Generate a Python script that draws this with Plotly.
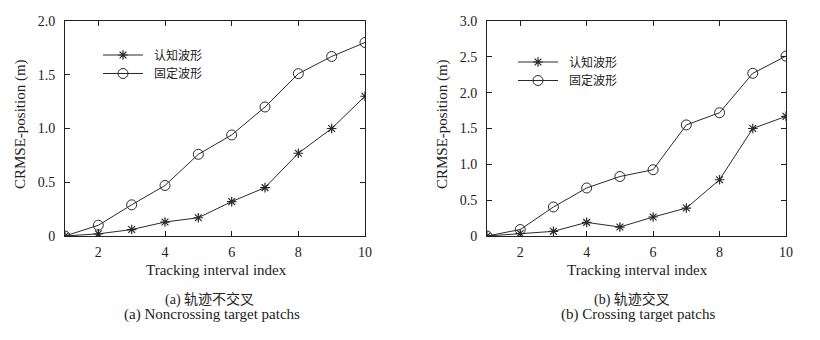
import plotly.graph_objects as go

x = [1, 2, 3, 4, 5, 6, 7, 8, 9, 10]
a_cog = [0.0, 0.02, 0.06, 0.13, 0.17, 0.32, 0.45, 0.77, 1.00, 1.30]
a_fix = [0.0, 0.10, 0.29, 0.47, 0.76, 0.94, 1.20, 1.51, 1.67, 1.80]
b_cog = [0.0, 0.035, 0.065, 0.19, 0.125, 0.265, 0.39, 0.785, 1.50, 1.67]
b_fix = [0.0, 0.09, 0.405, 0.67, 0.83, 0.925, 1.55, 1.72, 2.27, 2.51]
names = ["认知波形", "固定波形"]
x_ticks = [2, 4, 6, 8, 10]
a_yticks = [0, 0.5, 1.0, 1.5, 2.0]
a_ylabels = ["0", "0.5", "1.0", "1.5", "2.0"]
b_yticks = [0, 0.5, 1.0, 1.5, 2.0, 2.5, 3.0]
b_ylabels = ["0", "0.5", "1.0", "1.5", "2.0", "2.5", "3.0"]
xtitle = "Tracking interval index"
ytitle = "CRMSE-position (m)"
cap_a = ["(a) 轨迹不交叉", "(a) Noncrossing target patchs"]
cap_b = ["(b) 轨迹交叉", "(b) Crossing target patchs"]

W, H = 820, 340
LINE = "#2a2a2a"
SERIF = "Liberation Serif, DejaVu Serif, serif"
CJK = "Noto Sans CJK SC, sans-serif"


def px_x(p):
    return p / W


def px_y(p):
    return 1 - p / H


fig = go.Figure()


def add_pair(ys, xa, ya, legends):
    star, circ = ys
    fig.add_trace(go.Scatter(x=x, y=star, mode="lines+markers", name="\u2002" + names[0],
                             xaxis=xa, yaxis=ya, legend=legends[0],
                             line=dict(color=LINE, width=1),
                             marker=dict(symbol="asterisk-open", size=8, color=LINE,
                                         line=dict(color=LINE, width=1.2))))
    fig.add_trace(go.Scatter(x=x, y=circ, mode="lines+markers", name="\u2002" + names[1],
                             xaxis=xa, yaxis=ya, legend=legends[1],
                             line=dict(color=LINE, width=1),
                             marker=dict(symbol="circle-open", size=10, color=LINE,
                                         line=dict(color=LINE, width=1))))


add_pair((a_cog, a_fix), "x", "y", ("legend", "legend2"))
add_pair((b_cog, b_fix), "x2", "y2", ("legend3", "legend4"))

axis_common = dict(showline=True, linecolor="#222", linewidth=1, mirror="ticks",
                   ticks="inside", ticklen=5, tickcolor="#222", showgrid=False,
                   zeroline=False, automargin=False,
                   tickfont=dict(family=SERIF, size=14, color="#222"))


def leg(xp, yp):
    return dict(x=px_x(xp), y=px_y(yp), xanchor="left", yanchor="middle",
                xref="paper", yref="paper", bgcolor="rgba(0,0,0,0)",
                font=dict(family=CJK, size=12, color="#222"), itemwidth=40)


fig.update_layout(
    template="none",
    width=W, height=H, margin=dict(l=0, r=0, t=0, b=0, pad=0, autoexpand=False),
    paper_bgcolor="white", plot_bgcolor="white", showlegend=True,
    xaxis=dict(domain=[px_x(65), px_x(365)], range=[1, 10], tickvals=x_ticks,
               anchor="y", ticklabelstandoff=3, **axis_common),
    yaxis=dict(domain=[px_y(236), px_y(21)], range=[0, 2.0], tickvals=a_yticks,
               ticktext=a_ylabels, anchor="x", ticklabelstandoff=6, **axis_common),
    xaxis2=dict(domain=[px_x(487), px_x(786)], range=[1, 10], tickvals=x_ticks,
                anchor="y2", ticklabelstandoff=3, **axis_common),
    yaxis2=dict(domain=[px_y(236), px_y(21)], range=[0, 3.0], tickvals=b_yticks,
                ticktext=b_ylabels, anchor="x2", ticklabelstandoff=6, **axis_common),
    legend=leg(98, 55),
    legend2=leg(98, 73.5),
    legend3=leg(513, 62),
    legend4=leg(513, 80.5),
)

ann = []
for cx in (216, 637):
    ann.append(dict(x=px_x(cx), y=px_y(270), text=xtitle,
                    font=dict(family=SERIF, size=15, color="#222")))
for (c1, c2), caps in (((209, 212), cap_a), ((632, 638), cap_b)):
    ann.append(dict(x=px_x(c1), y=px_y(299), text=caps[0],
                    font=dict(family=SERIF + ", Noto Sans CJK SC", size=14, color="#222")))
    ann.append(dict(x=px_x(c2), y=px_y(314), text=caps[1],
                    font=dict(family=SERIF, size=15, color="#222")))
for cx in (20, 442):
    ann.append(dict(x=px_x(cx), y=px_y(124), text=ytitle, textangle=-90,
                    font=dict(family=SERIF, size=15, color="#222")))
for a in ann:
    a.update(xref="paper", yref="paper", xanchor="center", yanchor="middle",
             showarrow=False)
fig.update_layout(annotations=ann)

fig.write_html("out.html")
